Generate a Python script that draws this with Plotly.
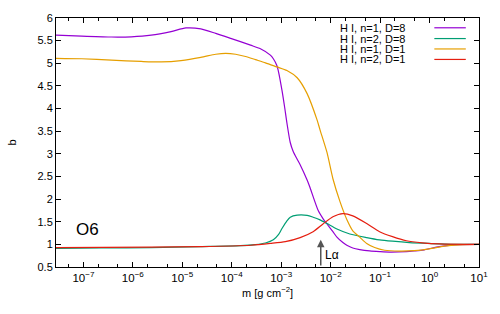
import numpy as np
import plotly.graph_objects as go

# ---- data (x values are log10 of m [g cm^-2]) ----
series_names = ["H I, n=1, D=8", "H I, n=2, D=8", "H I, n=1, D=1", "H I, n=2, D=1"]
series_colors = ["#9400D3", "#009E73", "#E69F00", "#E51E10"]

n1_D8_logm = [-7.554, -7.034, -6.432, -6.030, -5.629, -5.227, -4.926, -4.625, -4.323, -4.022,
              -3.620, -3.420, -3.219, -3.159, -3.088, -3.052, -2.984, -2.932, -2.884, -2.817,
              -2.757, -2.677, -2.617, -2.476, -2.416, -2.249, -2.155, -2.074, -1.954, -1.873,
              -1.753, -1.673, -1.552, -1.412, -1.211, -1.010, -0.809, -0.468, -0.307, -0.106,
              0.195, 0.496, 1.0]
n1_D8_b = [5.62, 5.60, 5.58, 5.585, 5.62, 5.70, 5.78, 5.76, 5.66, 5.55,
           5.40, 5.32, 5.18, 5.10, 4.95, 4.80, 4.40, 4.04, 3.68, 3.25,
           3.05, 2.88, 2.76, 2.42, 2.25, 1.74, 1.57, 1.45, 1.28, 1.16,
           1.04, 0.98, 0.92, 0.885, 0.855, 0.84, 0.83, 0.84, 0.855, 0.88,
           0.95, 0.99, 1.0]

n2_D8_logm = [-7.554, -6.633, -5.629, -4.625, -3.821, -3.520, -3.319, -3.159, -3.052, -2.984,
              -2.884, -2.817, -2.677, -2.476, -2.355, -2.215, -2.074, -1.873, -1.612, -1.271,
              -1.010, -0.749, -0.408, -0.006, 0.496, 1.0]
n2_D8_b = [0.91, 0.92, 0.93, 0.95, 0.97, 0.995, 1.03, 1.10, 1.22, 1.35,
           1.52, 1.60, 1.645, 1.64, 1.60, 1.54, 1.46, 1.34, 1.23, 1.15,
           1.10, 1.07, 1.04, 1.02, 1.0, 1.0]

n1_D1_logm = [-7.554, -7.034, -6.432, -5.829, -5.428, -5.026, -4.625, -4.323, -4.122, -3.922,
              -3.721, -3.520, -3.319, -3.088, -2.884, -2.677, -2.476, -2.275, -2.215, -2.074,
              -1.954, -1.813, -1.673, -1.552, -1.412, -1.271, -1.110, -0.910, -0.608, -0.307,
              -0.006, 0.296, 0.596, 1.0]
n1_D1_b = [5.11, 5.10, 5.07, 5.04, 5.03, 5.06, 5.13, 5.20, 5.22, 5.20,
           5.15, 5.08, 5.01, 4.92, 4.84, 4.68, 4.33, 3.75, 3.53, 3.03,
           2.45, 1.95, 1.55, 1.30, 1.16, 1.02, 0.93, 0.87, 0.85, 0.86,
           0.90, 0.96, 0.99, 1.0]

n2_D1_logm = [-7.554, -5.629, -4.625, -3.620, -3.219, -2.916, -2.617, -2.355, -2.155, -1.954,
              -1.753, -1.552, -1.271, -1.010, -0.749, -0.468, -0.147, 0.195, 1.0]
n2_D1_b = [0.93, 0.94, 0.95, 0.98, 1.02, 1.06, 1.15, 1.28, 1.45, 1.61,
           1.68, 1.63, 1.46, 1.28, 1.17, 1.08, 1.035, 1.01, 1.0]

series_logm = [n1_D8_logm, n2_D8_logm, n1_D1_logm, n2_D1_logm]
series_b = [n1_D8_b, n2_D8_b, n1_D1_b, n2_D1_b]

x_tick_exps = [-7, -6, -5, -4, -3, -2, -1, 0, 1]
y_ticks = [0.5, 1, 1.5, 2, 2.5, 3, 3.5, 4, 4.5, 5, 5.5, 6]
x_range_log = [-7.554, 1.0]
y_range = [0.5, 6.0]

lyman_alpha_logm = -2.2
lyman_alpha_tip_b = 1.1
panel_label = "O6"

FONT = "Liberation Sans, Arial, Helvetica, sans-serif"

fig = go.Figure()
for logm, b, name, col in zip(series_logm, series_b, series_names, series_colors):
    fig.add_trace(go.Scatter(
        x=10 ** np.array(logm), y=b, mode="lines", name=name,
        line=dict(color=col, width=1.2, shape="spline", smoothing=0.7),
        showlegend=False, hoverinfo="skip"))

# legend drawn gnuplot style: text then line sample
leg_x_text = 0.829
leg_y = [0.9607, 0.9174, 0.8757, 0.8336]
for name, col, yy in zip(series_names, series_colors, leg_y):
    fig.add_annotation(x=leg_x_text, y=yy, xref="paper", yref="paper", text=name,
                       showarrow=False, xanchor="right", yanchor="middle",
                       font=dict(family=FONT, size=11, color="black"))
    fig.add_shape(type="line", xref="paper", yref="paper", x0=0.8944, x1=0.9688,
                  y0=yy, y1=yy, line=dict(color=col, width=1.2))

# Lyman alpha arrow
fig.add_annotation(x=lyman_alpha_logm, y=lyman_alpha_tip_b, ax=lyman_alpha_logm, ay=y_range[0],
                   xref="x", yref="y", axref="x", ayref="y", text="", showarrow=True,
                   arrowhead=2, arrowsize=1, arrowwidth=1.5, arrowcolor="#555555")
fig.add_annotation(x=lyman_alpha_logm + 0.045, y=0.76, xref="x", yref="y", text="Lα",
                   showarrow=False, xanchor="left", yanchor="middle",
                   font=dict(family=FONT, size=12, color="black"))

# panel label
fig.add_annotation(x=-7.195, y=1.32, xref="x", yref="y", text=panel_label,
                   showarrow=False, xanchor="left", yanchor="middle",
                   font=dict(family=FONT, size=17, color="black"))

minor_vals = [k * 10.0 ** e for e in range(-8, 1) for k in (2, 5)]

fig.update_layout(
    width=500, height=314,
    margin=dict(l=54, r=20, t=13, b=47),
    paper_bgcolor="white", plot_bgcolor="white",
    font=dict(family=FONT, size=11, color="black"),
    xaxis=dict(
        type="log", range=x_range_log,
        tickmode="array",
        tickvals=[10.0 ** e for e in x_tick_exps],
        ticktext=["10<sup>%s</sup>" % (str(e).replace("-", "−")) for e in x_tick_exps],
        ticks="inside", ticklen=5, tickcolor="black", tickwidth=1,
        minor=dict(tickmode="array", tickvals=minor_vals, ticks="inside", ticklen=3,
                   tickcolor="black", tickwidth=1),
        showline=True, linecolor="black", linewidth=1, mirror="ticks",
        showgrid=False, zeroline=False,
        tickfont=dict(family=FONT, size=11.5),
        title=dict(text="m [g cm<sup>−2</sup>]", font=dict(family=FONT, size=11), standoff=6),
    ),
    yaxis=dict(
        range=y_range, tickmode="array", tickvals=y_ticks,
        ticktext=[("%g" % v) for v in y_ticks],
        ticks="inside", ticklen=5, tickcolor="black", tickwidth=1,
        showline=True, linecolor="black", linewidth=1, mirror="ticks",
        showgrid=False, zeroline=False,
        tickfont=dict(family=FONT, size=11),
        title=dict(text="b", font=dict(family=FONT, size=11), standoff=18),
    ),
)

fig.write_html("out.html", config={"displayModeBar": False},
               post_script="document.body.style.margin='0px';document.body.style.overflow='hidden';")
